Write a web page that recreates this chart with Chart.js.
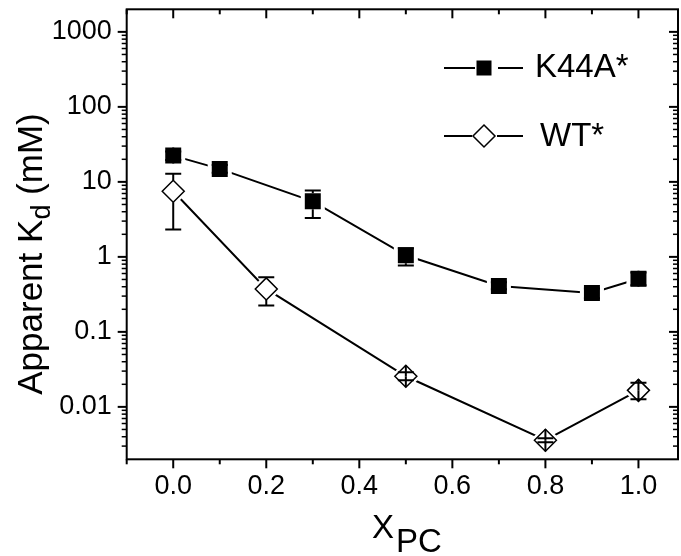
<!DOCTYPE html>
<html lang="en">
<head>
  <meta charset="UTF-8">
  <title>Apparent Kd vs XPC</title>
  <script src="https://cdn.jsdelivr.net/npm/chart.js"></script>
  <style>
    body { margin: 0; background: #fff; }
    canvas { display: block; }
  </style>
</head>
<body>
  <canvas id="chart" width="681" height="556"></canvas>

  <script>
    // K44A* series (mM)
    const xK44A = [0, 0.1, 0.3, 0.5, 0.7, 0.9, 1.0];
    const kdK44A = [22.4, 14.9, 5.5, 1.05, 0.41, 0.33, 0.51];
    const kdK44ALow = [19.5, 13.2, 3.3, 0.77, 0.37, 0.28, 0.42];
    const kdK44AHigh = [25.5, 16.8, 7.7, 1.3, 0.46, 0.38, 0.62];

    // WT* series
    const xWT = [0, 0.2, 0.5, 0.8, 1.0];
    const kdWT = [7.5, 0.374, 0.0256, 0.00359, 0.0166];
    const kdWTLow = [2.31, 0.224, 0.0227, 0.00338, 0.0126];
    const kdWTHigh = [12.8, 0.535, 0.029, 0.00382, 0.021];

    // axis ticks
    const xTickLabels = ['0.0', '0.2', '0.4', '0.6', '0.8', '1.0'];
    const xMinorTicks = [-0.1, 0.1, 0.3, 0.5, 0.7, 0.9];
    const yTickLabels = ['0.01', '0.1', '1', '10', '100', '1000'];

    const FONT = '"Liberation Sans", Arial, sans-serif';
    const ctx = document.getElementById('chart').getContext('2d');

    const pts = (xs, ys) => xs.map((v, i) => ({ x: v, y: ys[i] }));

    function yMinorTicks() {
      const out = [];
      for (let e = -3; e <= 3; e++) {
        for (let m = 2; m <= 9; m++) {
          const v = m * Math.pow(10, e);
          if (v > 0.002 && v < 2000) out.push(v);
        }
      }
      return out;
    }

    function errorBars(c, x, y, xs, ys, lo, hi, r) {
      c.lineWidth = 2;
      for (let i = 0; i < xs.length; i++) {
        const px = x.getPixelForValue(xs[i]);
        const py = y.getPixelForValue(ys[i]);
        [[hi[i], -1], [lo[i], 1]].forEach(([b, s]) => {
          const pb = y.getPixelForValue(b);
          c.beginPath();
          if (Math.abs(pb - py) > r) {
            c.moveTo(px, py + s * r);
            c.lineTo(px, pb);
          } else {
            c.moveTo(px, py);
            c.lineTo(px, py + s * r);
          }
          c.moveTo(px - 8, pb);
          c.lineTo(px + 8, pb);
          c.stroke();
        });
      }
    }

    const extras = {
      id: 'extras',
      afterDatasetsDraw(chart) {
        const c = chart.ctx;
        const a = chart.chartArea;
        const x = chart.scales.x;
        const y = chart.scales.y;
        c.save();
        c.strokeStyle = '#000';
        c.fillStyle = '#000';

        errorBars(c, x, y, xK44A, kdK44A, kdK44ALow, kdK44AHigh, 8);
        errorBars(c, x, y, xWT, kdWT, kdWTLow, kdWTHigh, 11);

        // frame
        c.lineWidth = 2;
        c.strokeRect(a.left, a.top, a.right - a.left, a.bottom - a.top);

        // tick marks: bottom/left outward, top/right inward
        const tick = (x1, y1, x2, y2) => {
          c.beginPath(); c.moveTo(x1, y1); c.lineTo(x2, y2); c.stroke();
        };
        c.lineWidth = 2;
        xTickLabels.map(parseFloat).forEach(v => {
          const px = x.getPixelForValue(v);
          tick(px, a.bottom, px, a.bottom + 9);
          tick(px, a.top, px, a.top + 9);
        });
        xMinorTicks.forEach(v => {
          const px = x.getPixelForValue(v);
          tick(px, a.bottom, px, a.bottom + 5);
          tick(px, a.top, px, a.top + 5);
        });
        yTickLabels.map(parseFloat).forEach(v => {
          const py = y.getPixelForValue(v);
          tick(a.left - 9, py, a.left, py);
          tick(a.right - 9, py, a.right, py);
        });
        c.lineWidth = 1.5;
        yMinorTicks().forEach(v => {
          const py = y.getPixelForValue(v);
          tick(a.left - 5, py, a.left, py);
          tick(a.right - 5, py, a.right, py);
        });

        // legend
        c.lineWidth = 2;
        tick(444, 68, 475, 68);
        tick(498, 68, 523, 68);
        c.fillRect(476.5, 60.5, 15, 15);
        tick(444, 136, 472, 136);
        tick(497, 136, 523, 136);
        c.lineWidth = 1.5;
        c.beginPath();
        c.moveTo(484, 125); c.lineTo(495, 136); c.lineTo(484, 147); c.lineTo(473, 136);
        c.closePath();
        c.fillStyle = '#fff';
        c.fill();
        c.stroke();
        c.fillStyle = '#000';
        c.font = '33px ' + FONT;
        c.textBaseline = 'alphabetic';
        c.fillText('K44A*', 535, 77);
        c.fillText('WT*', 540, 146);

        // axis titles with subscripts
        c.fillText('X', 372, 538);
        c.fillText('PC', 396, 552);

        c.save();
        c.translate(42, 254);
        c.rotate(-Math.PI / 2);
        const big = '35px ' + FONT;
        const small = '27px ' + FONT;
        c.font = big;
        const w1 = c.measureText('Apparent K').width;
        const w3 = c.measureText(' (mM)').width;
        c.font = small;
        const w2 = c.measureText('d').width;
        let sx = -(w1 + w2 + w3) / 2;
        c.font = big;
        c.fillText('Apparent K', sx, 0);
        sx += w1;
        c.font = small;
        c.fillText('d', sx, 8);
        sx += w2;
        c.font = big;
        c.fillText(' (mM)', sx, 0);
        c.restore();

        c.restore();
      }
    };

    new Chart(ctx, {
      type: 'scatter',
      data: {
        datasets: [
          {
            label: 'K44A*',
            data: pts(xK44A, kdK44A),
            showLine: false,
            pointStyle: 'rect',
            pointRadius: 11.3,
            backgroundColor: '#000',
            borderColor: '#000',
            borderWidth: 0
          },
          {
            label: 'WT*',
            data: pts(xWT, kdWT),
            showLine: false,
            pointStyle: 'rectRot',
            pointRadius: 11,
            backgroundColor: '#fff',
            borderColor: '#000',
            borderWidth: 1.5
          },
          {
            data: pts(xK44A, kdK44A),
            showLine: false,
            pointStyle: 'rect',
            pointRadius: 17,
            backgroundColor: '#fff',
            borderWidth: 0
          },
          {
            data: pts(xWT, kdWT),
            showLine: false,
            pointStyle: 'rectRot',
            pointRadius: 15.5,
            backgroundColor: '#fff',
            borderWidth: 0
          },
          {
            data: pts(xK44A, kdK44A),
            showLine: true,
            pointRadius: 0,
            borderColor: '#000',
            borderWidth: 2
          },
          {
            data: pts(xWT, kdWT),
            showLine: true,
            pointRadius: 0,
            borderColor: '#000',
            borderWidth: 2
          }
        ]
      },
      options: {
        responsive: false,
        animation: false,
        events: [],
        layout: { autoPadding: false, padding: { left: 0, top: 9.3, right: 3, bottom: 0 } },
        plugins: {
          legend: { display: false },
          tooltip: { enabled: false }
        },
        scales: {
          x: {
            type: 'linear',
            min: -0.1,
            max: 1.085,
            grid: { display: false, drawTicks: false },
            border: { display: false },
            afterBuildTicks: s => { s.ticks = xTickLabels.map(v => ({ value: parseFloat(v) })); },
            afterFit: s => {
              s.height = 96.7;
              s.paddingLeft = 0; s.paddingRight = 0; s.paddingTop = 0; s.paddingBottom = 0;
            },
            ticks: {
              autoSkip: false,
              maxRotation: 0,
              padding: 11,
              color: '#000',
              font: { family: FONT, size: 27 },
              callback: v => v.toFixed(1)
            }
          },
          y: {
            type: 'logarithmic',
            min: 0.002,
            max: 2000,
            grid: { display: false, drawTicks: false },
            border: { display: false },
            afterBuildTicks: s => { s.ticks = yTickLabels.map(v => ({ value: parseFloat(v) })); },
            afterFit: s => {
              s.width = 126.7;
              s.paddingLeft = 0; s.paddingRight = 0; s.paddingTop = 0; s.paddingBottom = 0;
            },
            ticks: {
              autoSkip: false,
              padding: 15,
              color: '#000',
              font: { family: FONT, size: 27 },
              callback: v => yTickLabels.find(t => parseFloat(t) === v) || ''
            }
          }
        }
      },
      plugins: [extras]
    });
  </script>
</body>
</html>
